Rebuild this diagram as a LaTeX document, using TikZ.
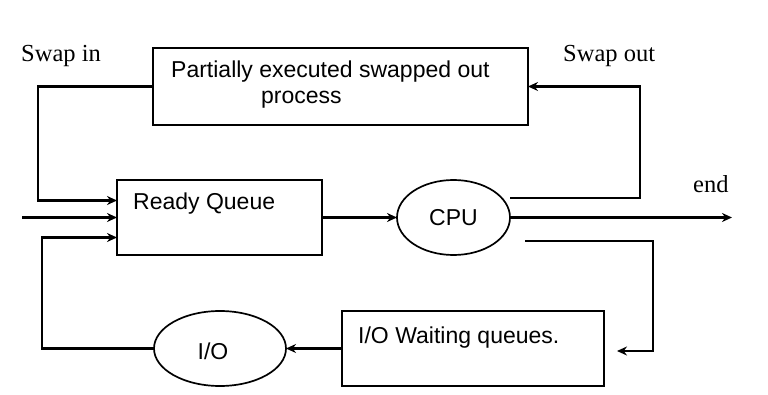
\documentclass[tikz,border=0pt]{standalone}
\usepackage{fontspec}
\setmainfont{Liberation Serif}
\newfontfamily\boxfont{Liberation Sans}
\usetikzlibrary{shapes.geometric,arrows.meta,calc}
\begin{document}
\begin{tikzpicture}[x=1pt,y=1pt,
  boxshape/.style={draw,line width=2pt,rectangle,inner sep=0pt,outer sep=0pt},
  ellshape/.style={draw,line width=1.7pt,ellipse,inner sep=0pt,outer sep=0pt},
  boxtext/.style={font=\boxfont\fontsize{23}{25}\selectfont,inner sep=0pt,anchor=base west},
  lbltext/.style={font=\fontsize{24.5}{26}\selectfont,inner sep=0pt,anchor=base west},
  arr/.style={line width=2.1pt,-{Stealth[length=10pt,width=9pt]}}]
\useasboundingbox[fill=white] (0,0) rectangle (768,394);
% shapes
\node[boxshape,minimum width=375pt,minimum height=77pt] (top) at (340.5,307.5) {};
\node[boxshape,minimum width=205pt,minimum height=75pt] (rq) at (219.5,176.5) {};
\node[ellshape,minimum width=113pt,minimum height=75pt] (cpu) at (453.5,176.5) {};
\node[boxshape,minimum width=262pt,minimum height=75pt] (iow) at (473,45.5) {};
\node[ellshape,minimum width=132pt,minimum height=75pt] (io) at (220,45.5) {};
% texts
\node[boxtext] (t1) at (171,316) {Partially executed swapped out};
\node[boxtext] (t2) at (261,290) {process};
\node[boxtext] (t3) at (133,184) {Ready Queue};
\node[boxtext,anchor=base] (t4) at (453.5,168) {CPU};
\node[boxtext] (t5) at (358,51) {I/O Waiting queues.};
\node[boxtext,anchor=base] (t6) at (213,35) {I/O};
\node[lbltext] (swin) at (21,332) {Swap in};
\node[lbltext] (swout) at (563,332) {Swap out};
\node[lbltext] (endl) at (693,201) {end};
% coordinates
\coordinate (rqa) at ($(rq.west)+(0,17)$);
\coordinate (rqc) at ($(rq.west)+(0,-20)$);
\coordinate (inp) at (22,176.5);
\coordinate (so) at (510,196);
\coordinate (endp) at (732,176.5);
\coordinate (c2) at (525,153);
\coordinate (iowin) at (617,43);
% connectors
\draw[arr] (top.west) -| ($(rqa)+(-79,0)$) -- (rqa);
\draw[arr] (inp) -- (rq.west);
\draw[arr] (io.west) -| ($(rqc)+(-75,0)$) -- (rqc);
\draw[arr] (rq.east) -- (cpu.west);
\draw[arr] (so) -| ($(top.east)+(112,0)$) -- (top.east);
\draw[arr] (cpu.east) -- (endp);
\draw[arr] (c2) -| ($(iowin)+(36,0)$) -- (iowin);
\draw[arr] (iow.west) -- (io.east);
\end{tikzpicture}
\end{document}
